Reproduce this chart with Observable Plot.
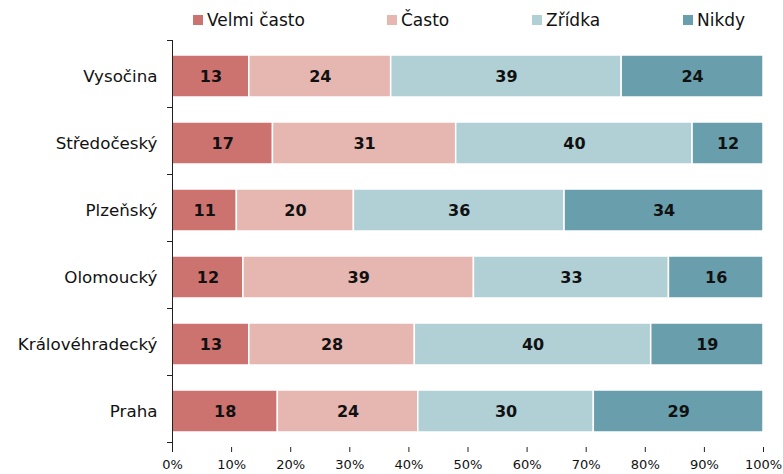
<!DOCTYPE html>
<html>
<head>
<meta charset="utf-8">
<script src="https://cdn.jsdelivr.net/npm/d3@7"></script>
<script src="https://cdn.jsdelivr.net/npm/@observablehq/plot@0.6"></script>
<style>
  body { margin: 0; background: #fff; font-family: "DejaVu Sans", Verdana, sans-serif; }
  #legend { position: relative; height: 34px; width: 783px; font-size: 17px; color: #111; }
  .item { position: absolute; top: 9px; line-height: 22px; white-space: nowrap; }
  .sw { display: inline-block; width: 10px; height: 10px; margin-right: 4px; vertical-align: 1px; }
</style>
</head>
<body>
<div id="legend"></div>
<div id="chart"></div>
<script>
const regions = ["Vysočina", "Středočeský", "Plzeňský", "Olomoucký", "Královéhradecký", "Praha"];
const categories = ["Velmi často", "Často", "Zřídka", "Nikdy"];
const colors = ["#cd736f", "#e6b6b1", "#b1d0d6", "#699fac"];
const velmiCasto = [13, 17, 11, 12, 13, 18];
const casto = [24, 31, 20, 39, 28, 24];
const zridka = [39, 40, 36, 33, 40, 30];
const nikdy = [24, 12, 34, 16, 19, 29];
const xTicks = [0, 0.1, 0.2, 0.3, 0.4, 0.5, 0.6, 0.7, 0.8, 0.9, 1];

const series = [velmiCasto, casto, zridka, nikdy];
const data = [];
regions.forEach((r, i) => {
  categories.forEach((c, j) => data.push({region: r, category: c, value: series[j][i]}));
});

// legend
const legendLeft = [193, 387, 532, 683];
const legend = document.getElementById("legend");
categories.forEach((c, j) => {
  const it = document.createElement("div");
  it.className = "item";
  it.style.left = legendLeft[j] + "px";
  it.innerHTML = `<span class="sw" style="background:${colors[j]}"></span>${c}`;
  legend.appendChild(it);
});

function bandTicks(index, scales, values, dims) {
  const y = scales.y;
  const [y0] = y.range();
  const step = y.step();
  const n = y.domain().length;
  const g = d3.create("svg:g").attr("stroke", "#222").attr("stroke-width", 1);
  for (let k = 0; k <= n; k++) {
    const yy = Math.round(y0 + k * step) + 0.5;
    g.append("line").attr("x1", dims.marginLeft - 5).attr("x2", dims.marginLeft)
      .attr("y1", yy).attr("y2", yy);
  }
  g.append("line").attr("x1", dims.marginLeft + 0.5).attr("x2", dims.marginLeft + 0.5)
    .attr("y1", y0).attr("y2", dims.height - dims.marginBottom);
  return g.node();
}

const stackOpts = {x: "value", y: "region", z: "category", offset: "normalize", order: categories};

const chart = Plot.plot({
  width: 783,
  height: 440,
  marginLeft: 172,
  marginRight: 20,
  marginTop: 6,
  marginBottom: 27,
  style: {fontFamily: "DejaVu Sans, Verdana, sans-serif", fontSize: "13px", color: "#111", background: "#fff"},
  x: {domain: [0, 1], ticks: xTicks, tickFormat: d => Math.round(d * 100) + "%", label: null},
  y: {domain: regions, paddingInner: 0.38, paddingOuter: 0.19, label: null},
  color: {domain: categories, range: colors},
  marks: [
    Plot.barX(data, Plot.stackX({...stackOpts, fill: "category", stroke: "#fff", strokeWidth: 1.5})),
    Plot.text(data, Plot.stackX({...stackOpts, text: d => String(d.value), fontWeight: "bold", fontSize: 16, fill: "#111"})),
    Plot.axisX({ticks: xTicks, tickFormat: d => Math.round(d * 100) + "%", tickSize: 5, tickPadding: 7, fontSize: 13, label: null, stroke: "#222"}),
    Plot.ruleY([0], {frameAnchor: "bottom", stroke: "#222"}),
    Plot.axisY({tickSize: 0, tickPadding: 15, fontSize: 16.7, label: null}),
    bandTicks
  ]
});
document.getElementById("chart").appendChild(chart);
</script>
</body>
</html>
